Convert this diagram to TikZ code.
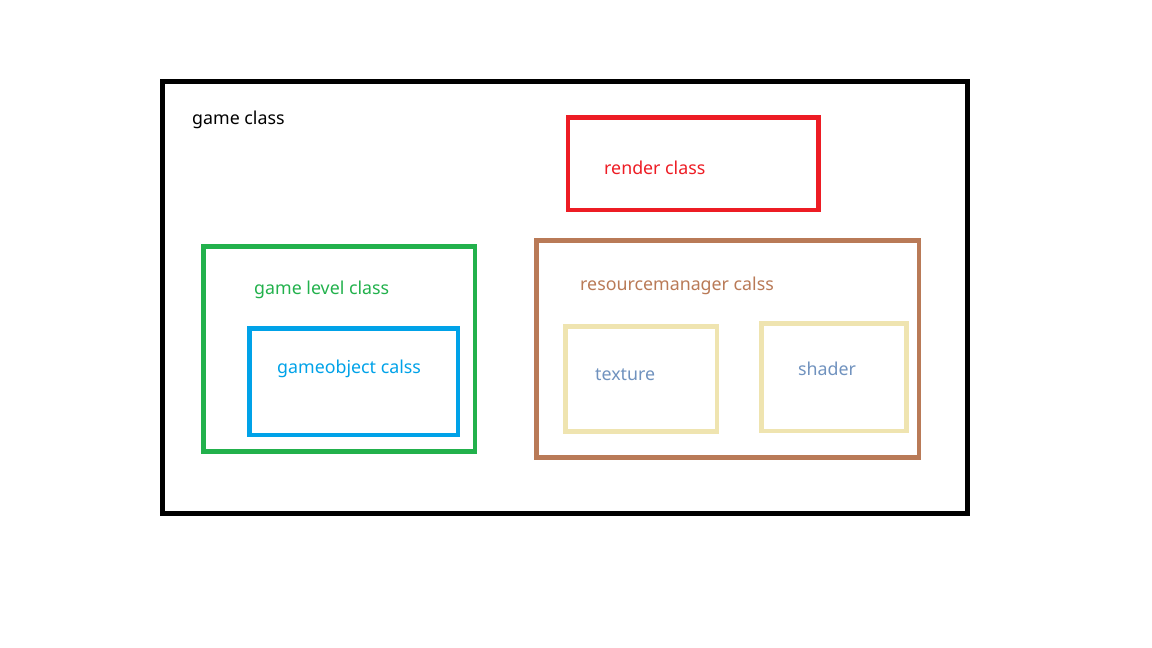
\documentclass[tikz,border=0pt]{standalone}
\usepackage{fontspec}
\setmainfont{Noto Sans}
\usepackage{tikz}
\usetikzlibrary{shapes}
\definecolor{gameblack}{RGB}{0,0,0}
\definecolor{renderred}{RGB}{237,28,36}
\definecolor{levelgreen}{RGB}{34,177,76}
\definecolor{objectblue}{RGB}{0,162,232}
\definecolor{managerbrown}{RGB}{185,122,87}
\definecolor{resourcebeige}{RGB}{239,228,176}
\definecolor{resourcetext}{RGB}{112,146,190}
\tikzstyle{classbox}=[rectangle,line width=4.5pt,inner sep=0pt]
\tikzstyle{classlabel}=[anchor=west,inner sep=0pt,font=\fontsize{17.8}{21}\selectfont]

\begin{document}
\begin{tikzpicture}[x=1pt,y=-1pt]
    \useasboundingbox (0,0) rectangle (1152,648);
    % boxes
    \node[classbox,draw=gameblack,minimum width=805pt,minimum height=432pt] (game) at (564.75,297.25) {};
    \node[classbox,draw=renderred,minimum width=250.5pt,minimum height=92.5pt] (render) at (693.25,163.75) {};
    \node[classbox,draw=levelgreen,minimum width=271.5pt,minimum height=205pt] (level) at (339.25,349) {};
    \node[classbox,draw=objectblue,minimum width=208.5pt,minimum height=106.5pt] (object) at (353.75,381.75) {};
    \node[classbox,draw=managerbrown,minimum width=382.5pt,minimum height=217pt] (manager) at (727.75,349) {};
    \node[classbox,draw=resourcebeige,minimum width=151.5pt,minimum height=105pt] (texture) at (641.25,379) {};
    \node[classbox,draw=resourcebeige,minimum width=145pt,minimum height=107.5pt] (shader) at (834,377.25) {};
    % labels
    \node[classlabel,text=gameblack] (gamelabel) at (192,119.5) {game class};
    \node[classlabel,text=renderred] (renderlabel) at (604,167.5) {render class};
    \node[classlabel,text=levelgreen] (levellabel) at (254,289.5) {game level class};
    \node[classlabel,text=objectblue] (objectlabel) at (277,368.5) {gameobject calss};
    \node[classlabel,text=managerbrown] (managerlabel) at (580,285.5) {resourcemanager calss};
    \node[classlabel,text=resourcetext] (texturelabel) at (595,374.5) {texture};
    \node[classlabel,text=resourcetext] (shaderlabel) at (798,368.5) {shader};
\end{tikzpicture}
\end{document}
